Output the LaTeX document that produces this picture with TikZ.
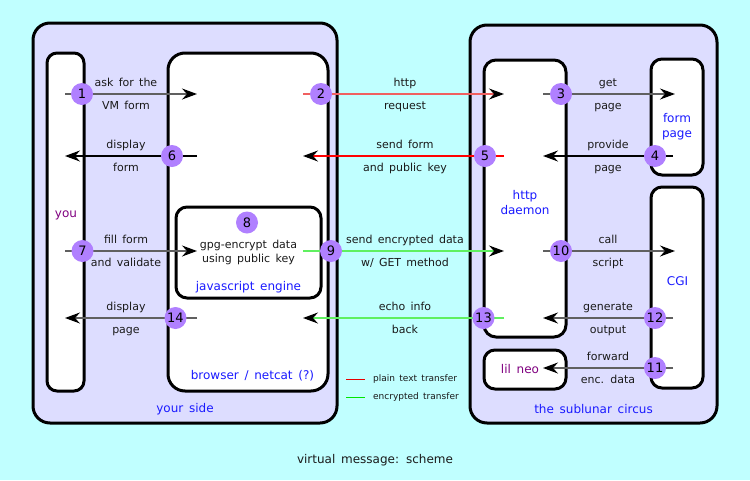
\documentclass[tikz,border=0pt]{standalone}
\usepackage{fontspec}
\setmainfont{DejaVu Sans}[WordSpace=1.5]
\usetikzlibrary{arrows.meta}
\definecolor{bg}{RGB}{192,255,255}
\definecolor{lav}{RGB}{221,221,255}
\definecolor{circ}{RGB}{176,128,255}
\definecolor{blu}{RGB}{26,26,255}
\definecolor{pur}{RGB}{128,0,128}
\definecolor{txt}{RGB}{26,26,26}
\definecolor{gry}{RGB}{96,96,96}
\definecolor{lred}{RGB}{240,96,96}
\definecolor{grn}{RGB}{96,240,96}
\definecolor{legred}{RGB}{230,0,0}
\definecolor{leggrn}{RGB}{0,230,0}
\tikzset{
  bigbox/.style={draw=black, line width=3pt, fill=lav, rounded corners=17pt, inner sep=0pt},
  inbox/.style={draw=black, line width=3pt, fill=white, rounded corners=#1, inner sep=0pt},
  inbox/.default=11pt,
  num/.style={circle, fill=circ, minimum size=22pt, inner sep=0pt, text=black, font=\fontsize{13}{13}\selectfont},
  lbl/.style={anchor=base, text=txt, inner sep=0pt, font=\fontsize{11}{13}\selectfont},
  boxlbl/.style={anchor=base, text=blu, inner sep=0pt, font=\fontsize{12}{14}\selectfont},
  leglbl/.style={anchor=base west, text=txt, inner sep=0pt, font=\fontsize{9}{11}\selectfont},
  conn/.style={line width=1.3pt, -{Stealth[length=15pt,width=11pt,inset=5pt,color=black]}},
}
\begin{document}
\begin{tikzpicture}[x=1pt,y=-1pt]
\path[fill=bg] (0,0) rectangle (750,480);
\useasboundingbox (0,0) rectangle (750,480);

% boxes
\node[bigbox, minimum width=304pt, minimum height=400pt] (yourside) at (185,223) {};
\node[bigbox, minimum width=247pt, minimum height=398pt] (circus) at (593.5,224) {};
\node[inbox=10pt, minimum width=37pt, minimum height=338pt] (you) at (65.5,222) {};
\node[inbox=17pt, minimum width=160pt, minimum height=338pt] (browser) at (248,222) {};
\node[inbox=11pt, minimum width=145pt, minimum height=91pt] (js) at (248.5,252.5) {};
\node[inbox=12pt, minimum width=82pt, minimum height=277pt] (httpd) at (525,198.5) {};
\node[inbox=11pt, minimum width=52pt, minimum height=116pt] (formpage) at (677,117) {};
\node[inbox=11pt, minimum width=52pt, minimum height=201pt] (cgi) at (677,287.5) {};
\node[inbox=11pt, minimum width=82pt, minimum height=39pt] (lilneo) at (525,369.5) {};

% box labels
\node[boxlbl, text=pur] (tyou) at (66,217) {you};
\node[lbl] (tgpg1) at (248.5,248.5) {gpg-encrypt data};
\node[lbl] (tgpg2) at (248.5,262.5) {using public key};
\node[boxlbl] (tjs) at (248.5,290.5) {javascript engine};
\node[boxlbl] (tbrowser) at (252.5,379.5) {browser / netcat (?)};
\node[boxlbl] (tyourside) at (185,412.5) {your side};
\node[boxlbl] (thttp1) at (525,199.5) {http};
\node[boxlbl] (thttp2) at (525,214.5) {daemon};
\node[boxlbl] (tform1) at (677,122) {form};
\node[boxlbl] (tform2) at (677,137) {page};
\node[boxlbl] (tcgi) at (677.5,285.5) {CGI};
\node[boxlbl, text=pur] (tlil) at (520,373.5) {lil neo};
\node[boxlbl] (tcircus) at (593.5,413.5) {the sublunar circus};

% connector end points
\coordinate (l1a) at (65,94);   \coordinate (l1b) at (197,94);
\coordinate (m1a) at (303,94);  \coordinate (m1b) at (504,94);
\coordinate (r1a) at (543,94);  \coordinate (r1b) at (675,94);
\coordinate (l2a) at (197,156); \coordinate (l2b) at (65,156);
\coordinate (m2a) at (504,156); \coordinate (m2b) at (303,156);
\coordinate (r2a) at (673,156); \coordinate (r2b) at (543,156);
\coordinate (l3a) at (65,251);  \coordinate (l3b) at (197,251);
\coordinate (m3a) at (303,251); \coordinate (m3b) at (504,251);
\coordinate (r3a) at (543,251); \coordinate (r3b) at (675,251);
\coordinate (l4a) at (197,318); \coordinate (l4b) at (65,318);
\coordinate (m4a) at (504,318); \coordinate (m4b) at (303,318);
\coordinate (r4a) at (673,318); \coordinate (r4b) at (543,318);
\coordinate (r5a) at (673,368); \coordinate (r5b) at (543,368);

% connectors
\draw[conn, gry] (l1a) -- (l1b);
\draw[conn, lred] (m1a) -- (m1b);
\draw[conn, gry] (r1a) -- (r1b);
\draw[conn, black] (l2a) -- (l2b);
\draw[conn, red] (m2a) -- (m2b);
\draw[conn, black] (r2a) -- (r2b);
\draw[conn, gry] (l3a) -- (l3b);
\draw[conn, grn] (m3a) -- (m3b);
\draw[conn, gry] (r3a) -- (r3b);
\draw[conn, gry] (l4a) -- (l4b);
\draw[conn, grn] (m4a) -- (m4b);
\draw[conn, gry] (r4a) -- (r4b);
\draw[conn, gry] (r5a) -- (r5b);

% numbered circles
\node[num] (n1) at (82,94) {1};
\node[num] (n2) at (321,94) {2};
\node[num] (n3) at (561,94) {3};
\node[num] (n4) at (655,156) {4};
\node[num] (n5) at (485,156) {5};
\node[num] (n6) at (172,156) {6};
\node[num] (n7) at (82.5,251) {7};
\node[num] (n8) at (247,222.5) {8};
\node[num] (n9) at (331,251) {9};
\node[num] (n10) at (561,251) {10};
\node[num] (n11) at (655,368) {11};
\node[num] (n12) at (655,318) {12};
\node[num] (n13) at (483.5,318) {13};
\node[num] (n14) at (175.5,318) {14};

% connector labels
\node[lbl] (la1) at (126,86.5) {ask for the};
\node[lbl] (lb1) at (126,109) {VM form};
\node[lbl] (la2) at (405,86.5) {http};
\node[lbl] (lb2) at (405,109) {request};
\node[lbl] (la3) at (608,86.5) {get};
\node[lbl] (lb3) at (608,109) {page};
\node[lbl] (la6) at (126,148.5) {display};
\node[lbl] (lb6) at (126,171) {form};
\node[lbl] (la5) at (405,148.5) {send form};
\node[lbl] (lb5) at (405,171) {and public key};
\node[lbl] (la4) at (608,148.5) {provide};
\node[lbl] (lb4) at (608,171) {page};
\node[lbl] (la7) at (126,243.5) {fill form};
\node[lbl] (lb7) at (126,266) {and validate};
\node[lbl] (la9) at (405,243.5) {send encrypted data};
\node[lbl] (lb9) at (405,266) {w/ GET method};
\node[lbl] (la10) at (608,243.5) {call};
\node[lbl] (lb10) at (608,266) {script};
\node[lbl] (la14) at (126,310.5) {display};
\node[lbl] (lb14) at (126,333) {page};
\node[lbl] (la13) at (405,310.5) {echo info};
\node[lbl] (lb13) at (405,333) {back};
\node[lbl] (la12) at (608,310.5) {generate};
\node[lbl] (lb12) at (608,333) {output};
\node[lbl] (la11) at (608,360.5) {forward};
\node[lbl] (lb11) at (608,383) {enc. data};

% legend
\coordinate (lgr1) at (346,379.5); \coordinate (lgr2) at (365,379.5);
\coordinate (lgg1) at (346,397.5); \coordinate (lgg2) at (365,397.5);
\draw[legred, line width=1pt] (lgr1) -- (lgr2);
\draw[leggrn, line width=1pt] (lgg1) -- (lgg2);
\node[leglbl] (legr) at (373,381.5) {plain text transfer};
\node[leglbl] (legg) at (373,399.5) {encrypted transfer};

% title
\node[lbl, font=\fontsize{12}{14}\selectfont] (title) at (375,463) {virtual message: scheme};
\end{tikzpicture}
\end{document}
